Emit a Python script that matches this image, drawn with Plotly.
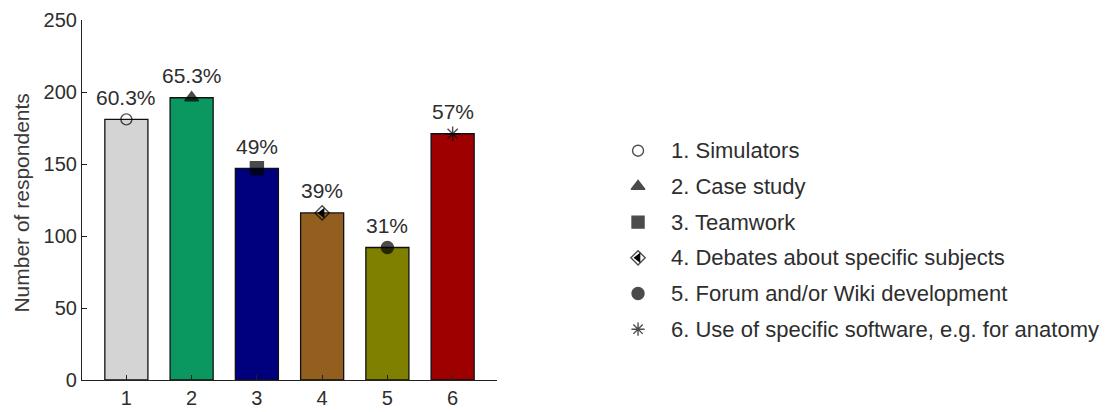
import plotly.graph_objects as go

categories = [1, 2, 3, 4, 5, 6]
respondents = [181, 196, 147, 116, 92, 171]
percent_labels = ["60.3%", "65.3%", "49%", "39%", "31%", "57%"]
legend_labels = [
    "1. Simulators",
    "2. Case study",
    "3. Teamwork",
    "4. Debates about specific subjects",
    "5. Forum and/or Wiki development",
    "6. Use of specific software, e.g. for anatomy",
]
bar_colors = ["#d4d4d4", "#0a9860", "#00007e", "#925f1e", "#7f7f00", "#9e0000"]
symbols = ["circle-open", "triangle-up", "square", "diamond-open", "circle", "asterisk-open"]
sizes = [11, 12, 13, 11, 12, 12]

FONT = "Liberation Sans, Arial, sans-serif"
TXT = "#2e2e2e"

fig = go.Figure()

fig.add_trace(go.Bar(
    x=categories, y=respondents, width=0.66,
    marker=dict(color=bar_colors, line=dict(color="#111111", width=1.3)),
    showlegend=False, hoverinfo="skip",
))

# markers on bar tops
fig.add_trace(go.Scatter(
    x=categories, y=respondents, mode="markers",
    marker=dict(symbol=symbols, size=sizes, color="black",
                line=dict(color="black", width=1.4)),
    showlegend=False, hoverinfo="skip", cliponaxis=False,
))
# left half fill for the debate (4) diamond
fig.add_trace(go.Scatter(
    x=[categories[3]], y=[respondents[3]], mode="markers",
    marker=dict(symbol="triangle-left", size=9, color="black"),
    showlegend=False, hoverinfo="skip", cliponaxis=False,
))

# percentage labels
for c, v, t in zip(categories, respondents, percent_labels):
    fig.add_annotation(x=c, y=v, text=t, showarrow=False, yshift=22,
                       xanchor="center", yanchor="middle",
                       font=dict(family=FONT, size=21, color=TXT))

# y axis title
fig.add_annotation(x=0, y=0.49, xref="paper", yref="paper", xshift=-60,
                   text="Number of respondents", textangle=-90, showarrow=False,
                   xanchor="center", yanchor="middle",
                   font=dict(family=FONT, size=21, color="#3a3a3a"))

# manual legend on a secondary axis pair
rows = list(range(1, len(legend_labels) + 1))
fig.add_trace(go.Scatter(
    x=[0.0368] * len(rows), y=rows, mode="markers",
    xaxis="x2", yaxis="y2",
    marker=dict(symbol=symbols, size=[11, 12, 12, 11, 12, 11], color="black",
                line=dict(color="black", width=1.4)),
    showlegend=False, hoverinfo="skip", cliponaxis=False,
))
fig.add_trace(go.Scatter(
    x=[0.0368], y=[rows[3]], mode="markers", xaxis="x2", yaxis="y2",
    marker=dict(symbol="triangle-left", size=9, color="black"),
    showlegend=False, hoverinfo="skip", cliponaxis=False,
))
for r, lab in zip(rows, legend_labels):
    fig.add_annotation(x=0.1002, y=r, xref="x2", yref="y2", text=lab,
                       showarrow=False, xanchor="left", yanchor="middle",
                       font=dict(family=FONT, size=22, color=TXT))

# page body adds an 8px offset; margins compensate so the plot area sits at
# x 82..1109, y 20..380 in the window
fig.update_layout(
    width=1114, height=412,
    margin=dict(l=74, r=13, t=12, b=40),
    paper_bgcolor="white", plot_bgcolor="white",
    font=dict(family=FONT, color=TXT),
    xaxis=dict(domain=[0, 0.4041], range=[0.32, 6.68], tickvals=categories,
               ticktext=[str(c) for c in categories],
               showline=True, linecolor="#222", linewidth=1.2,
               ticks="inside", ticklen=5, tickcolor="#222",
               showgrid=False, zeroline=False, automargin=False,
               tickfont=dict(family=FONT, size=20, color=TXT)),
    yaxis=dict(range=[0, 250], dtick=50, showline=True, linecolor="#222",
               linewidth=1.2, ticks="inside", ticklen=5, tickcolor="#222",
               showgrid=False, zeroline=False, automargin=False,
               tickfont=dict(family=FONT, size=20, color=TXT)),
    xaxis2=dict(domain=[0.5239, 1], range=[0, 1], visible=False, anchor="y2"),
    yaxis2=dict(domain=[0, 1], range=[7.423, -2.661], visible=False, anchor="x2"),
)

fig.write_html("out.html")
